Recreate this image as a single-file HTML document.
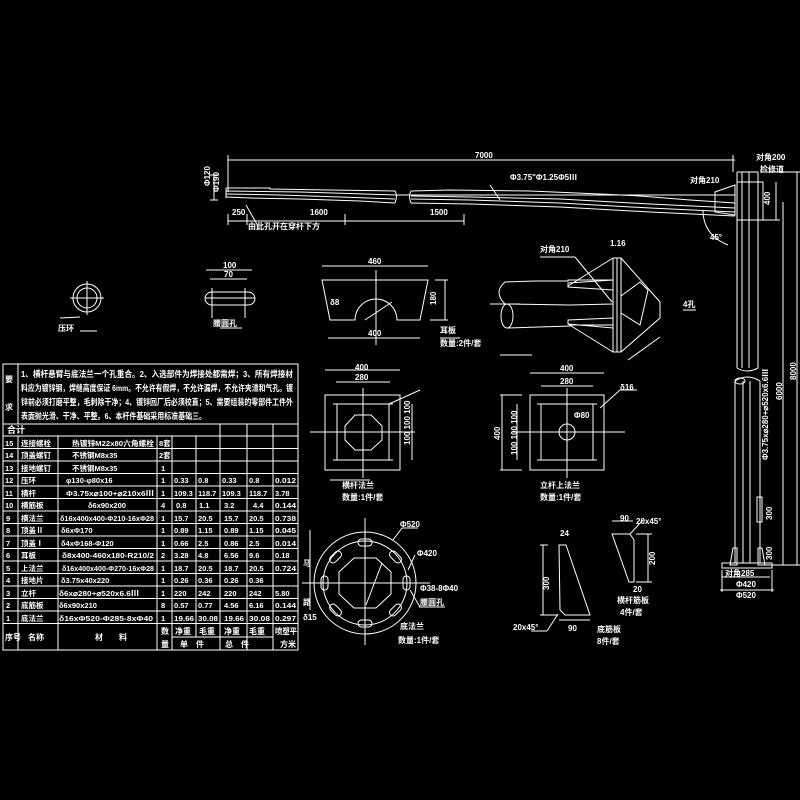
<!DOCTYPE html>
<html><head><meta charset="utf-8"><style>
html,body{margin:0;padding:0;background:#000;}
svg{display:block}
text{fill:#fff;font-family:"Liberation Sans","Noto Sans CJK SC",sans-serif;font-weight:bold}
</style></head><body>
<svg width="800" height="800" viewBox="0 0 800 800" xmlns="http://www.w3.org/2000/svg">
<rect width="800" height="800" fill="#000"/>
<g stroke="#fff" stroke-width="1" fill="none">
<rect x="3" y="364" width="295" height="286"/>
<line x1="18" y1="364" x2="18" y2="424"/>
<line x1="3" y1="424" x2="298" y2="424"/>
<line x1="3" y1="436" x2="298" y2="436"/>
<line x1="220" y1="424" x2="220" y2="650"/>
<line x1="247" y1="424" x2="247" y2="650"/>
<line x1="273" y1="424" x2="273" y2="650"/>
<line x1="18" y1="436" x2="18" y2="650"/>
<line x1="58" y1="436" x2="58" y2="650"/>
<line x1="157" y1="436" x2="157" y2="650"/>
<line x1="172" y1="436" x2="172" y2="650"/>
<line x1="196" y1="436" x2="196" y2="637"/>
<line x1="172" y1="637" x2="273" y2="637"/>
<g>
<line x1="3" y1="448.5" x2="298" y2="448.5"/><line x1="3" y1="461" x2="298" y2="461"/>
<line x1="3" y1="473.5" x2="298" y2="473.5"/><line x1="3" y1="486" x2="298" y2="486"/>
<line x1="3" y1="498.5" x2="298" y2="498.5"/><line x1="3" y1="511" x2="298" y2="511"/>
<line x1="3" y1="523.5" x2="298" y2="523.5"/><line x1="3" y1="536" x2="298" y2="536"/>
<line x1="3" y1="548.5" x2="298" y2="548.5"/><line x1="3" y1="561" x2="298" y2="561"/>
<line x1="3" y1="573.5" x2="298" y2="573.5"/><line x1="3" y1="586" x2="298" y2="586"/>
<line x1="3" y1="598.5" x2="298" y2="598.5"/><line x1="3" y1="611" x2="298" y2="611"/>
<line x1="3" y1="623.5" x2="298" y2="623.5"/>
</g>
<line x1="228" y1="160" x2="735" y2="160"/>
<line x1="228" y1="155" x2="228" y2="192"/><line x1="733" y1="155" x2="733" y2="172"/>
<line x1="228" y1="221" x2="464" y2="221"/>
<line x1="228" y1="214" x2="228" y2="225"/><line x1="247" y1="214" x2="247" y2="225"/>
<line x1="345" y1="214" x2="345" y2="225"/>
<line x1="464" y1="214" x2="464" y2="225"/>
<polyline points="226,188 270,188 270,189 330,190 395,191 395,192"/>
<polyline points="226,191 300,192 365,194 395,195"/>
<polyline points="226,194 280,195 340,197 395,199"/>
<polyline points="226,197 250,198 300,199 360,201 395,203"/>
<line x1="226" y1="188" x2="226" y2="198"/>
<path d="M395,191 q3,5 0,12"/>
<path d="M411,191 q-3,5 0,12"/>
<polyline points="411,191 450,190 530,191 600,194 640,196 690,200 735,203"/>
<polyline points="411,196 470,197 560,199 650,204 735,208"/>
<polyline points="411,199 470,200 560,203 650,208 735,212"/>
<polyline points="411,203 470,204 560,207 650,212 735,216"/>
<line x1="395" y1="195" x2="735" y2="195"/>
<polygon points="715,192 735,185 735,215 715,212"/>
<line x1="210" y1="175" x2="218" y2="175"/><line x1="210" y1="200" x2="218" y2="200"/>
<line x1="214" y1="175" x2="214" y2="200"/>
<path d="M703,210 q0,25 25,35"/>
<line x1="246" y1="205" x2="258" y2="226"/>
<line x1="490" y1="185" x2="500" y2="200"/>
<rect x="737" y="182" width="26" height="38"/>
<line x1="737" y1="172" x2="737" y2="368"/><line x1="758" y1="172" x2="758" y2="368"/>
<line x1="742" y1="172" x2="742" y2="368"/><line x1="749" y1="172" x2="749" y2="368"/>
<line x1="737" y1="172" x2="758" y2="172"/>
<path d="M737,368 q10,6 21,0"/>
<ellipse cx="740" cy="381" rx="5" ry="3"/>
<line x1="735" y1="381" x2="735" y2="563"/><line x1="760" y1="381" x2="760" y2="563"/>
<line x1="743" y1="381" x2="743" y2="563"/><line x1="750" y1="381" x2="750" y2="563"/>
<path d="M735,381 q12,-8 25,0"/>
<polygon points="730,565 733,548 737,548 737,565"/>
<polygon points="765,565 762,548 758,548 758,565"/>
<rect x="722" y="563" width="50" height="5"/>
<line x1="722" y1="577" x2="770" y2="577"/><line x1="720" y1="590" x2="774" y2="590"/>
<line x1="722" y1="570" x2="722" y2="592"/><line x1="772" y1="570" x2="772" y2="592"/>
<line x1="776" y1="182" x2="776" y2="220"/>
<line x1="783" y1="202" x2="783" y2="565"/>
<line x1="797" y1="172" x2="797" y2="565"/>
<line x1="760" y1="565" x2="800" y2="565"/>
<line x1="760" y1="172" x2="800" y2="172"/>
<line x1="760" y1="220" x2="780" y2="220"/>
<rect x="757" y="497" width="5" height="25"/>
<line x1="683" y1="310" x2="696" y2="310"/>
<circle cx="87" cy="298" r="14"/><circle cx="87" cy="298" r="10"/>
<line x1="70" y1="298" x2="104" y2="298"/><line x1="87" y1="281" x2="87" y2="315"/>
<line x1="80" y1="317" x2="60" y2="318"/>
<line x1="80" y1="331" x2="97" y2="331"/>
<path d="M212,292 h36 a7,6.5 0 0 1 0,13 h-36 a7,6.5 0 0 1 0,-13z"/>
<line x1="205" y1="298" x2="255" y2="298"/>
<line x1="212" y1="288" x2="212" y2="318"/><line x1="245" y1="288" x2="245" y2="318"/>
<line x1="206" y1="270" x2="252" y2="270"/><line x1="210" y1="279" x2="247" y2="279"/>
<line x1="220" y1="328" x2="242" y2="328"/>
<path d="M322,280 L428,280 L420,320 L397,320 A21,21 0 0 0 355,320 L330,320 Z"/>
<line x1="322" y1="266" x2="428" y2="266"/>
<line x1="328" y1="338" x2="420" y2="338"/>
<line x1="376" y1="270" x2="376" y2="345"/>
<line x1="445" y1="280" x2="445" y2="320"/>
<line x1="435" y1="280" x2="448" y2="280"/><line x1="430" y1="320" x2="448" y2="320"/>
<line x1="365" y1="320" x2="392" y2="302"/>
<line x1="440" y1="338" x2="460" y2="338"/>
<path d="M505,282 q-12,10 0,22"/>
<ellipse cx="507" cy="316" rx="6" ry="12"/>
<polyline points="505,282 535,281 568,281 568,280 613,280"/>
<polyline points="507,328 570,326 570,325 613,325"/>
<polyline points="505,304 570,305 613,304"/>
<line x1="490" y1="304" x2="520" y2="304"/>
<polygon points="568,283 613,280 613,290 568,287"/>
<polygon points="568,320 613,318 613,328 568,324"/>
<line x1="568" y1="286" x2="613" y2="258"/><line x1="568" y1="324" x2="613" y2="352"/>
<rect x="613" y="258" width="8" height="94"/>
<line x1="617" y1="258" x2="617" y2="352"/>
<polyline points="621,258 660,302 660,318 621,352"/>
<polygon points="621,296 640,282 648,290 640,325 621,313"/>
<line x1="540" y1="257" x2="575" y2="257"/><line x1="575" y1="257" x2="612" y2="302"/>
<line x1="628" y1="360" x2="660" y2="337"/>
<line x1="500" y1="355" x2="532" y2="355"/>
<rect x="325" y="395" width="75" height="75"/>
<line x1="310" y1="432" x2="415" y2="432"/><line x1="363" y1="388" x2="363" y2="478"/>
<line x1="337" y1="404" x2="337" y2="460"/><line x1="389" y1="404" x2="389" y2="460"/>
<line x1="333" y1="404" x2="393" y2="404"/><line x1="333" y1="460" x2="393" y2="460"/>
<polygon points="355,415 371,415 382,426 382,440 371,450 355,450 345,440 345,426"/>
<line x1="325" y1="370" x2="400" y2="370"/><line x1="336" y1="382" x2="390" y2="382"/>
<line x1="412" y1="404" x2="412" y2="460"/>
<line x1="389" y1="404" x2="420" y2="390"/>
<line x1="330" y1="480" x2="370" y2="480"/>
<rect x="530" y="395" width="74" height="75"/>
<line x1="512" y1="432" x2="625" y2="432"/><line x1="567" y1="388" x2="567" y2="478"/>
<line x1="541" y1="404" x2="541" y2="460"/><line x1="593" y1="404" x2="593" y2="460"/>
<line x1="537" y1="404" x2="597" y2="404"/><line x1="537" y1="460" x2="597" y2="460"/>
<circle cx="567" cy="432" r="8"/>
<line x1="530" y1="373" x2="604" y2="373"/><line x1="541" y1="386" x2="593" y2="386"/>
<line x1="500" y1="395" x2="522" y2="395"/><line x1="500" y1="470" x2="522" y2="470"/>
<line x1="502" y1="395" x2="502" y2="470"/>
<line x1="517" y1="404" x2="517" y2="460"/>
<line x1="600" y1="408" x2="620" y2="390"/><line x1="620" y1="390" x2="637" y2="390"/>
<circle cx="365" cy="583" r="51"/><circle cx="365" cy="583" r="42"/>
<polygon points="354,558 376,558 391,572 391,594 376,608 354,608 339,594 339,572"/>
<line x1="302" y1="583" x2="430" y2="583"/><line x1="365" y1="518" x2="365" y2="645"/>
<line x1="310" y1="530" x2="310" y2="610"/>
<rect x="358" y="539" width="14" height="7" rx="3.5"/>
<rect x="358" y="620" width="14" height="7" rx="3.5"/>
<rect x="321" y="576" width="7" height="14" rx="3.5"/>
<rect x="403" y="576" width="7" height="14" rx="3.5"/>
<rect x="332" y="550" width="7" height="14" rx="3.5" transform="rotate(45 335.5 557)"/>
<rect x="392" y="550" width="7" height="14" rx="3.5" transform="rotate(-45 395.5 557)"/>
<rect x="332" y="603" width="7" height="14" rx="3.5" transform="rotate(-45 335.5 610)"/>
<rect x="392" y="603" width="7" height="14" rx="3.5" transform="rotate(45 395.5 610)"/>
<line x1="366" y1="605" x2="382" y2="563"/>
<line x1="393" y1="540" x2="402" y2="528"/><line x1="402" y1="528" x2="418" y2="528"/>
<line x1="408" y1="570" x2="415" y2="555"/>
<line x1="419" y1="607" x2="445" y2="607"/><line x1="410" y1="590" x2="420" y2="607"/>
<polygon points="559,545 566,545 590,615 565,615 560,610"/>
<line x1="540" y1="545" x2="548" y2="545"/><line x1="540" y1="615" x2="558" y2="615"/>
<line x1="543" y1="545" x2="543" y2="615"/>
<line x1="559" y1="620" x2="590" y2="620"/>
<line x1="531" y1="631" x2="547" y2="631"/><line x1="547" y1="631" x2="558" y2="614"/>
<polygon points="612,534 630,534 634,540 634,582 629,582"/>
<line x1="612" y1="521" x2="633" y2="521"/>
<line x1="648" y1="534" x2="648" y2="582"/><line x1="636" y1="534" x2="652" y2="534"/><line x1="636" y1="582" x2="652" y2="582"/>
<line x1="630" y1="534" x2="643" y2="520"/>
</g>
<g font-size="8">
<text x="5" y="382">要</text><text x="5" y="410">求</text>
<text x="21" y="377" font-size="8.5" textLength="272" lengthAdjust="spacingAndGlyphs">1、横杆悬臂与底法兰一个孔重合。2、入选部件为焊接处都需焊；3、所有焊接材</text>
<text x="21" y="391" font-size="8.5" textLength="272" lengthAdjust="spacingAndGlyphs">料应为镀锌钢，焊缝高度保证 6mm。不允许有假焊，不允许漏焊，不允许夹渣和气孔。镀</text>
<text x="21" y="405" font-size="8.5" textLength="272" lengthAdjust="spacingAndGlyphs">锌前必须打磨平整，毛刺除干净；4、镀锌回厂后必须校直；5、需要组装的零部件工件外</text>
<text x="21" y="419" font-size="8.5" textLength="185" lengthAdjust="spacingAndGlyphs">表面抛光滑、干净、平整。6、本杆件基础采用标准基础三。</text>
<text x="7" y="433" font-size="9">合计</text>
<g font-size="7.5">
<text x="5" y="446">15</text><text x="21" y="446">连接螺栓</text><text x="72" y="446" textLength="82" lengthAdjust="spacingAndGlyphs">热镀锌M22x80六角螺栓</text><text x="159" y="446">8套</text>
<text x="5" y="458">14</text><text x="21" y="458">顶盖螺钉</text><text x="72" y="458">不锈钢M8x35</text><text x="159" y="458">2套</text>
<text x="5" y="471">13</text><text x="21" y="471">接地螺钉</text><text x="72" y="471">不锈钢M8x35</text><text x="161" y="471">1</text>
<text x="5" y="483">12</text><text x="21" y="483">压环</text><text x="66" y="483">φ130-φ80x16</text><text x="161" y="483">1</text><text x="174" y="483">0.33</text><text x="198" y="483">0.8</text><text x="222" y="483">0.33</text><text x="249" y="483">0.8</text><text x="275" y="483" textLength="21" lengthAdjust="spacingAndGlyphs">0.012</text>
<text x="5" y="496">11</text><text x="21" y="496">横杆</text><text x="66" y="496" textLength="88" lengthAdjust="spacingAndGlyphs">Φ3.75x⌀100+⌀210x6Ⅲ</text><text x="161" y="496">1</text><text x="174" y="496">109.3</text><text x="198" y="496">118.7</text><text x="222" y="496">109.3</text><text x="249" y="496">118.7</text><text x="275" y="496">3.78</text>
<text x="5" y="508">10</text><text x="21" y="508">横筋板</text><text x="88" y="508">δ6x90x200</text><text x="161" y="508">4</text><text x="176" y="508">0.8</text><text x="199" y="508">1.1</text><text x="224" y="508">3.2</text><text x="253" y="508">4.4</text><text x="275" y="508" textLength="21" lengthAdjust="spacingAndGlyphs">0.144</text>
<text x="6" y="521">9</text><text x="21" y="521">横法兰</text><text x="60" y="521" textLength="94" lengthAdjust="spacingAndGlyphs">δ16x400x400-Φ210-16xΦ28</text><text x="161" y="521">1</text><text x="174" y="521">15.7</text><text x="198" y="521">20.5</text><text x="224" y="521">15.7</text><text x="249" y="521">20.5</text><text x="275" y="521" textLength="21" lengthAdjust="spacingAndGlyphs">0.738</text>
<text x="6" y="533">8</text><text x="21" y="533">顶盖Ⅱ</text><text x="61" y="533">δ6xΦ170</text><text x="161" y="533">1</text><text x="174" y="533">0.89</text><text x="198" y="533">1.15</text><text x="224" y="533">0.89</text><text x="249" y="533">1.15</text><text x="275" y="533" textLength="21" lengthAdjust="spacingAndGlyphs">0.045</text>
<text x="6" y="546">7</text><text x="21" y="546">顶盖Ⅰ</text><text x="61" y="546">δ4xΦ168-Φ120</text><text x="161" y="546">1</text><text x="174" y="546">0.66</text><text x="198" y="546">2.5</text><text x="224" y="546">0.86</text><text x="249" y="546">2.5</text><text x="275" y="546" textLength="21" lengthAdjust="spacingAndGlyphs">0.014</text>
<text x="6" y="558">6</text><text x="21" y="558">耳板</text><text x="62" y="558" textLength="92" lengthAdjust="spacingAndGlyphs">δ8x400-460x180-R210/2</text><text x="161" y="558">2</text><text x="174" y="558">3.28</text><text x="198" y="558">4.8</text><text x="224" y="558">6.56</text><text x="249" y="558">9.6</text><text x="275" y="558">0.18</text>
<text x="6" y="571">5</text><text x="21" y="571">上法兰</text><text x="62" y="571" textLength="92" lengthAdjust="spacingAndGlyphs">δ16x400x400-Φ270-16xΦ28</text><text x="161" y="571">1</text><text x="174" y="571">18.7</text><text x="198" y="571">20.5</text><text x="224" y="571">18.7</text><text x="249" y="571">20.5</text><text x="275" y="571" textLength="21" lengthAdjust="spacingAndGlyphs">0.724</text>
<text x="6" y="583">4</text><text x="21" y="583">接地片</text><text x="61" y="583">δ3.75x40x220</text><text x="161" y="583">1</text><text x="174" y="583">0.26</text><text x="198" y="583">0.36</text><text x="224" y="583">0.26</text><text x="249" y="583">0.36</text>
<text x="6" y="596">3</text><text x="21" y="596">立杆</text><text x="59" y="596" textLength="80" lengthAdjust="spacingAndGlyphs">δ6x⌀280+⌀520x6.6Ⅲ</text><text x="161" y="596">1</text><text x="174" y="596">220</text><text x="198" y="596">242</text><text x="224" y="596">220</text><text x="249" y="596">242</text><text x="275" y="596">5.80</text>
<text x="6" y="608">2</text><text x="21" y="608">底筋板</text><text x="59" y="608">δ6x90x210</text><text x="161" y="608">8</text><text x="174" y="608">0.57</text><text x="198" y="608">0.77</text><text x="224" y="608">4.56</text><text x="249" y="608">6.16</text><text x="275" y="608" textLength="21" lengthAdjust="spacingAndGlyphs">0.144</text>
<text x="6" y="621">1</text><text x="21" y="621">底法兰</text><text x="59" y="621" textLength="94" lengthAdjust="spacingAndGlyphs">δ16xΦ520-Φ285-8xΦ40</text><text x="161" y="621">1</text><text x="174" y="621" textLength="20" lengthAdjust="spacingAndGlyphs">19.66</text><text x="198" y="621" textLength="20" lengthAdjust="spacingAndGlyphs">30.08</text><text x="224" y="621" textLength="20" lengthAdjust="spacingAndGlyphs">19.66</text><text x="249" y="621" textLength="21" lengthAdjust="spacingAndGlyphs">30.08</text><text x="275" y="621" textLength="21" lengthAdjust="spacingAndGlyphs">0.297</text>
</g>
<text x="5" y="640">序号</text><text x="28" y="640">名称</text><text x="95" y="640">材　　料</text><text x="161" y="634">数</text><text x="161" y="647">量</text>
<text x="175" y="634">净重</text><text x="199" y="634">毛重</text><text x="224" y="634">净重</text><text x="249" y="634">毛重</text><text x="275" y="634" textLength="22" lengthAdjust="spacingAndGlyphs">喷塑平</text>
<text x="180" y="647">单　件</text><text x="225" y="647">总　件</text><text x="280" y="647">方米</text>
<text x="475" y="158">7000</text>
<text x="510" y="180">Φ3.75"Φ1.25Φ5Ⅲ</text>
<text x="232" y="215">250</text><text x="310" y="215">1600</text><text x="430" y="215">1500</text>
<text x="248" y="229">由此孔开在穿杆下方</text>
<text x="690" y="183">对角210</text>
<text x="756" y="160">对角200</text><text x="760" y="172">检修道</text>
<text x="710" y="240">45°</text>
<text x="683" y="307">4孔</text>
<text x="610" y="246">1.16</text>
<text x="540" y="252">对角210</text>
<text x="368" y="264">460</text><text x="368" y="336">400</text><text x="330" y="305">δ8</text>
<text x="440" y="333">耳板</text><text x="440" y="346">数量:2件/套</text>
<text x="355" y="370">400</text><text x="355" y="380">280</text>
<text x="342" y="488">横杆法兰</text><text x="342" y="500">数量:1件/套</text>
<text x="560" y="371">400</text><text x="560" y="384">280</text><text x="620" y="390">δ16</text>
<text x="574" y="418">Φ80</text>
<text x="540" y="488">立杆上法兰</text><text x="540" y="500">数量:1件/套</text>
<text x="400" y="527">Φ520</text><text x="417" y="556">Φ420</text><text x="420" y="591">Φ38-8Φ40</text><text x="420" y="605">腰圆孔</text>
<text x="400" y="629">底法兰</text><text x="398" y="643">数量:1件/套</text>
<text x="560" y="536">24</text><text x="597" y="632">底筋板</text><text x="597" y="644">8件/套</text>
<text x="513" y="630">20x45°</text><text x="568" y="631">90</text>
<text x="620" y="521">90</text><text x="636" y="524">20x45°</text><text x="617" y="603">横杆筋板</text><text x="620" y="615">4件/套</text>
<text x="633" y="592">20</text>
<text x="58" y="331">压环</text><text x="213" y="326">腰圆孔</text>
<text x="223" y="268">100</text><text x="224" y="277">70</text>
<text x="725" y="576">对角285</text><text x="736" y="587">Φ420</text><text x="736" y="598">Φ520</text>
<text x="303" y="566">马</text><text x="303" y="605">路</text><text x="303" y="620">δ15</text>
</g>
<g font-size="8">
<text transform="translate(770,205) rotate(-90)">400</text>
<text transform="translate(796,380) rotate(-90)">8000</text>
<text transform="translate(782,400) rotate(-90)">6000</text>
<text transform="translate(772,520) rotate(-90)">300</text>
<text transform="translate(772,560) rotate(-90)">300</text>
<text transform="translate(768,460) rotate(-90)">Φ3.75x⌀280+⌀520x6.6Ⅲ</text>
<text transform="translate(410,445) rotate(-90)">100 100 100</text>
<text transform="translate(500,440) rotate(-90)">400</text>
<text transform="translate(517,455) rotate(-90)">100 100 100</text>
<text transform="translate(210,186) rotate(-90)">Φ120</text>
<text transform="translate(219,192) rotate(-90)">Φ190</text>
<text transform="translate(549,590) rotate(-90)">300</text>
<text transform="translate(655,565) rotate(-90)">200</text>
<text transform="translate(436,305) rotate(-90)">180</text>
</g>
</svg>
</body></html>
